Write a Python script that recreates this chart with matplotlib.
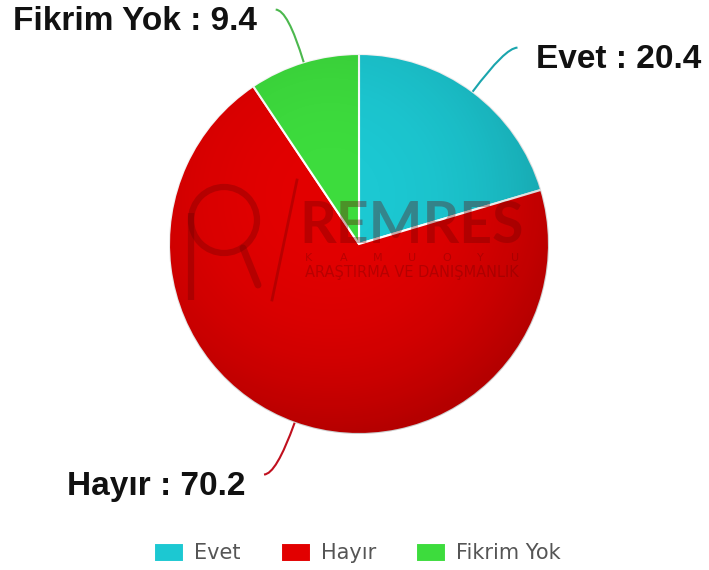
import numpy as np
import matplotlib.pyplot as plt
from matplotlib.patches import Circle, PathPatch
from matplotlib.path import Path

# values
categories = ["Evet", "Hayır", "Fikrim Yok"]
values = [20.4, 70.2, 9.4]
colors = ["#1cc8d2", "#e20000", "#3ddc3d"]
line_colors = ["#1aa5ad", "#c0101e", "#4cb84e"]

W, H = 709, 570


def py(y):
    """Pixel row (top-down) to axes y (bottom-up)."""
    return H - y


cx, cy, r = 359, py(244), 190

fig = plt.figure(figsize=(W / 100, H / 100), dpi=100)
ax = fig.add_axes([0, 0, 1, 1])

wedges, _ = ax.pie(values, colors=colors, startangle=90, counterclock=False,
                   center=(cx, cy), radius=r,
                   wedgeprops=dict(edgecolor="white", linewidth=1.5))

# soft radial shading to mimic the glossy look
n = 400
gx, gy = np.meshgrid(np.linspace(-1, 1, n), np.linspace(1, -1, n))
d = np.hypot(gx + 0.15, gy - 0.25) / 1.25
shade = np.zeros((n, n, 4))
shade[..., 3] = 0.2 * np.clip(d, 0, 1) ** 2.5
im = ax.imshow(shade, extent=[cx - r, cx + r, cy - r, cy + r], zorder=3,
               interpolation="bilinear")
im.set_clip_path(Circle((cx, cy), r, transform=ax.transData))

# watermark
wm = dict(color="#6a0000", alpha=0.33, zorder=4)
ax.add_patch(Circle((224, py(220)), 33, fill=False, lw=4.5, **wm))
ax.plot([191, 191], [py(213), py(300)], lw=4.5, solid_capstyle="butt", **wm)
ax.plot([243, 258], [py(248), py(285)], lw=5, solid_capstyle="round", **wm)
ax.plot([297, 272], [py(180), py(300)], lw=2, **wm)
ax.text(412, py(243), "REMRES", ha="center", va="baseline", fontsize=41,
        family="Lato", weight="bold", **wm)
for ch, x in zip("KAMUOYU", np.linspace(309, 515, 7)):
    ax.text(x, py(258), ch, ha="center", va="center", fontsize=8,
            family="DejaVu Sans", **wm)
ax.text(412, py(273), "ARAŞTIRMA VE DANIŞMANLIK", ha="center", va="center",
        fontsize=10.5, family="DejaVu Sans", **wm)

# connectors and outer labels
for w, cat, val, lc in zip(wedges, categories, values, line_colors):
    ang = np.deg2rad((w.theta1 + w.theta2) / 2)
    ca, sa = np.cos(ang), np.sin(ang)
    p0 = (cx + r * ca, cy + r * sa)
    p1 = (cx + (r + 55) * ca, cy + (r + 55) * sa)
    side = 1 if ca > 0 else -1
    p2 = (p1[0] + side * 12, p1[1])
    path = Path([p0, p1, p2], [Path.MOVETO, Path.CURVE3, Path.CURVE3])
    ax.add_patch(PathPatch(path, fill=False, edgecolor=lc, lw=1.5, zorder=5))
    ax.text(p2[0] + side * 19, p2[1] - 12, f"{cat} : {val}",
            ha="left" if side > 0 else "right", va="center",
            fontsize=24, weight="bold", family="Liberation Sans", color="#111111")

ax.legend(wedges, categories, loc="center", bbox_to_anchor=(357.5 / W, 1 - 553 / H),
          ncol=3, frameon=False, handlelength=1.44, handleheight=1.06,
          handletextpad=0.48, columnspacing=1.92, labelcolor="#555555",
          prop=dict(family="DejaVu Sans", size=15))

ax.set_xlim(0, W)
ax.set_ylim(0, H)
ax.set_aspect("equal")
ax.axis("off")

fig.savefig("out.png", dpi=100)
